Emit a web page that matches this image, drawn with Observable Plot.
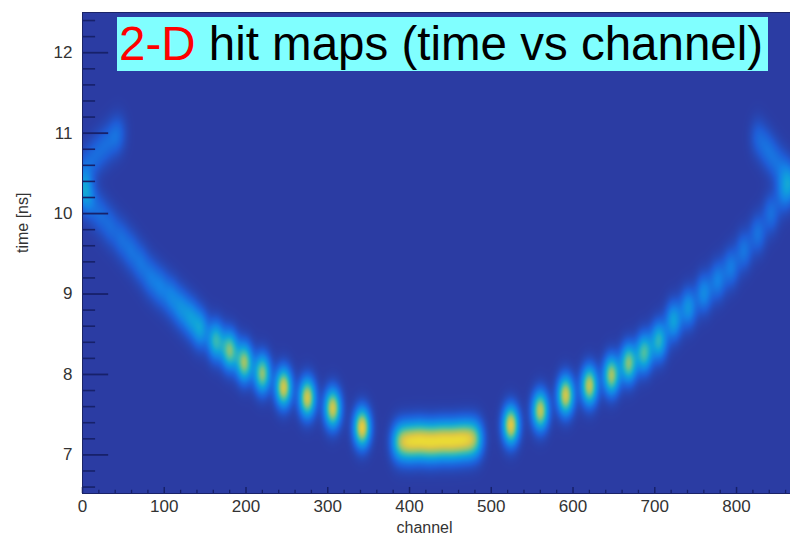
<!DOCTYPE html>
<html>
<head>
<meta charset="utf-8">
<script src="https://cdn.jsdelivr.net/npm/d3@7"></script>
<script src="https://cdn.jsdelivr.net/npm/@observablehq/plot@0.6"></script>
<style>
  html, body { margin: 0; padding: 0; background: #fff; }
  #wrap { position: relative; width: 790px; height: 537px; overflow: hidden; }
  #title {
    position: absolute; left: 117px; top: 17px; width: 651px; height: 54px;
    background: #80ffff; color: #000; white-space: nowrap;
    font-family: "Liberation Sans", Arial, sans-serif; font-size: 47.5px; line-height: 54px;
    padding-left: 2px; box-sizing: border-box;
  }
  #title .red { color: #ff0000; }
</style>
</head>
<body>
<div id="wrap">
  <div id="chart"></div>
  <div id="title"><span class="red">2-D</span> hit maps (time vs channel)</div>
</div>
<script>
// ---- data: hit clusters (channel, time [ns], relative intensity)
const hitChannel = [
  // upper-left faint arm
  5, 16, 27, 38, 45,
  // left vertex
  1, 3,
  // left branch
  10, 22, 34, 47, 59, 71, 83, 95, 108, 120, 132, 144, 163, 180, 198, 220, 246, 275, 306, 342,
  // bottom bar
  386, 394, 402, 410, 418, 426, 434, 442, 450, 458, 466, 474, 482,
  // right branch
  524, 560, 591, 620, 647, 668, 687, 705, 723, 741, 760, 777, 793, 809, 826, 842, 857, 866,
  // upper-right faint arm
  826, 836, 845, 855, 864
];
const hitTime = [
  10.60, 10.72, 10.84, 10.94, 11.00,
  10.35, 10.25,
  10.14, 9.99, 9.84, 9.69, 9.54, 9.38, 9.21, 9.09, 8.97, 8.83, 8.71, 8.57, 8.42, 8.30, 8.15, 8.01, 7.84, 7.71, 7.58, 7.34,
  7.16, 7.17, 7.16, 7.18, 7.17, 7.16, 7.17, 7.18, 7.17, 7.18, 7.19, 7.19, 7.20,
  7.37, 7.55, 7.74, 7.86, 7.99, 8.14, 8.27, 8.42, 8.67, 8.83, 9.01, 9.17, 9.33, 9.54, 9.75, 10.00, 10.25, 10.35,
  10.95, 10.82, 10.69, 10.56, 10.44
];
const hitAmplitude = [
  0.12, 0.13, 0.13, 0.12, 0.10,
  0.20, 0.18,
  0.15, 0.14, 0.14, 0.15, 0.16, 0.17, 0.18, 0.20, 0.22, 0.25, 0.29, 0.36, 0.50, 0.64, 0.70, 0.68, 0.82, 0.82, 0.82, 0.88,
  0.38, 0.42, 0.44, 0.44, 0.44, 0.44, 0.44, 0.44, 0.44, 0.44, 0.44, 0.42, 0.38,
  0.86, 0.78, 0.82, 0.78, 0.72, 0.66, 0.56, 0.48, 0.38, 0.32, 0.28, 0.24, 0.22, 0.20, 0.19, 0.18, 0.18, 0.20,
  0.12, 0.13, 0.13, 0.13, 0.13
];
const spreadChannel = 6.8;  // cluster spread along channel
const spreadTime = 0.16;    // cluster spread along time [ns]

const xTicks = [0, 100, 200, 300, 400, 500, 600, 700, 800];
const yTicks = [7, 8, 9, 10, 11, 12];
const xMinorTicks = d3.range(0, 866, 20).filter(v => v % 100 !== 0);
const yMinorTicks = d3.range(6.6, 12.5, 0.2).map(v => +v.toFixed(1)).filter(v => !Number.isInteger(v));

const colorStops = [0, 0.12, 0.25, 0.4, 0.55, 0.7, 0.85, 1];
const colorRange = ["#2b3ca3", "#1f5cd6", "#1580e6", "#10a3db", "#3cbcb0", "#95c470", "#dcc845", "#f5e82a"];

function hitDensity(x, y) {
  let s = 0;
  for (let i = 0; i < hitChannel.length; i++) {
    const dc = (x - hitChannel[i]) / spreadChannel;
    if (dc > 6 || dc < -6) continue;
    const dt = (y - hitTime[i]) / spreadTime;
    if (dt > 6 || dt < -6) continue;
    s += hitAmplitude[i] * Math.exp(-0.5 * (dc * dc + dt * dt));
  }
  return s;
}

const tickColor = "#17216a";
const chart = Plot.plot({
  width: 790, height: 537,
  marginLeft: 82, marginRight: 0, marginTop: 12, marginBottom: 44,
  x: {domain: [0, 866], axis: null},
  y: {domain: [6.52, 12.5], axis: null},
  color: {type: "linear", domain: colorStops, range: colorRange, clamp: true},
  style: {fontFamily: "'Liberation Sans', Arial, sans-serif", background: "transparent", color: "#333"},
  marks: [
    Plot.raster({x1: 0, x2: 866, y1: 6.52, y2: 12.5, fill: hitDensity, pixelSize: 1}),
    Plot.ruleY(yTicks, {y: d => d, x1: 0, x2: 32, stroke: tickColor, strokeWidth: 1.8}),
    Plot.ruleY(yMinorTicks, {y: d => d, x1: 0, x2: 16, stroke: tickColor, strokeWidth: 1.6}),
    Plot.ruleX(xTicks, {x: d => d, y1: 6.52, y2: 6.595, stroke: tickColor, strokeWidth: 1.5}),
    Plot.ruleX(xMinorTicks, {x: d => d, y1: 6.52, y2: 6.56, stroke: tickColor, strokeWidth: 1.3}),
    Plot.frame({stroke: "#1b2468", strokeWidth: 1}),
    Plot.axisX({ticks: xTicks, tickSize: 0, tickPadding: 6, fontSize: 17, fill: "#333", label: null, tickFormat: d => String(d)}),
    Plot.axisY({ticks: yTicks, tickSize: 0, tickPadding: 10, fontSize: 17, fill: "#333", label: null, tickFormat: d => String(d)}),
    Plot.text(["channel"], {frameAnchor: "bottom", dy: 39, dx: -12, fontSize: 16, fill: "#333"}),
    Plot.text(["time [ns]"], {frameAnchor: "left", dx: -60, rotate: -90, fontSize: 16, fill: "#333"})
  ]
});
document.getElementById("chart").appendChild(chart);
</script>
</body>
</html>
